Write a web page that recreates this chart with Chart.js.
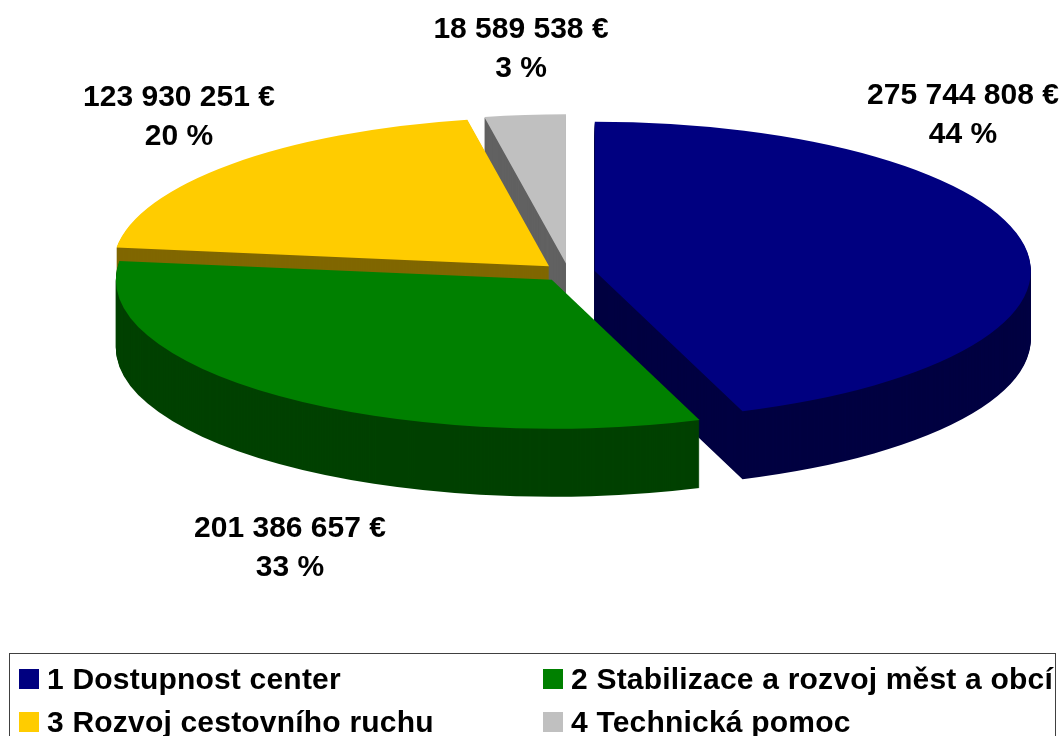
<!DOCTYPE html>
<html lang="cs">
<head>
<meta charset="utf-8">
<title>Prioritní osy</title>
<script src="https://cdn.jsdelivr.net/npm/chart.js@4/dist/chart.umd.min.js"></script>
<style>
    html, body { margin: 0; padding: 0; background: #fff; overflow: hidden; }
    #wrap { position: relative; width: 1061px; height: 736px; overflow: hidden;
            font: bold 30px "Liberation Sans", Arial, sans-serif; color: #000; }
    canvas { position: absolute; left: 0; top: 0; }
    .label { position: absolute; width: 300px; margin-left: -150px; text-align: center; line-height: 38.5px; white-space: nowrap; }
    #legend { position: absolute; left: 9px; top: 653px; width: 1047px; height: 100px; box-sizing: border-box;
              border: 1px solid #404040; }
    .item { position: absolute; white-space: nowrap; line-height: 38px; letter-spacing: 0.2px; }
    .item i { position: absolute; left: 0; top: 9px; width: 20px; height: 20px; }
    .item span { position: absolute; left: 28px; top: 0; }
</style>
</head>
<body>
<div id="wrap">
    <canvas id="pie" width="1061" height="736"></canvas>
    <div id="legend"></div>
</div>
<script>
// --- DATA ---
const categories = ['1 Dostupnost center', '2 Stabilizace a rozvoj měst a obcí', '3 Rozvoj cestovního ruchu', '4 Technická pomoc'];
const amounts = [275744808, 201386657, 123930251, 18589538];
const percents = [44, 33, 20, 3];
const topColors = ['#000080', '#008000', '#ffcc00', '#c0c0c0'];
const sideColors = ['#000040', '#004000', '#806600', '#606060'];

// --- LAYOUT ---
const TILT = 0.342;
const DEPTH = 68;
const RADIUS = 436;
const EXPLODE = 26.7;
// label centres, same order as categories
const labelX = [963, 290, 179, 521];
const labelY = [75, 508, 77, 9];
const legendX = [9, 533, 9, 533];
const legendY = [6, 6, 49, 49];
// front slices first, the walls are painted underneath what is already there
const wallOrder = [1, 0, 2, 3];

function formatAmount(value) {
    return String(value).replace(/\B(?=(\d{3})+$)/g, ' ') + ' €';
}

// move a slice out from the centre along its own middle angle
function explode(ctx, arc) {
    const mid = (arc.startAngle + arc.endAngle) / 2;
    ctx.translate(Math.cos(mid) * EXPLODE, Math.sin(mid) * EXPLODE);
}

const pie3d = {
    id: 'pie3d',
    beforeDatasetsDraw(chart) {
        const ctx = chart.ctx;
        const arcs = chart.getDatasetMeta(0).data;
        const cy = arcs[0].y;

        // squash the round pie into an ellipse
        ctx.save();
        ctx.translate(0, cy);
        ctx.scale(1, TILT);
        ctx.translate(0, -cy);

        arcs.forEach(arc => {
            ctx.save();
            explode(ctx, arc);
            arc.draw(ctx);
            ctx.restore();
        });

        // destination-over keeps the wall colour flat, no blending on top of itself
        ctx.globalCompositeOperation = 'destination-over';
        wallOrder.forEach(i => {
            const arc = arcs[i];
            const original = arc.options;
            arc.options = Object.create(original);
            arc.options.backgroundColor = sideColors[i];
            for (let d = 1; d <= DEPTH; d++) {
                ctx.save();
                ctx.translate(0, d / TILT);
                explode(ctx, arc);
                arc.draw(ctx);
                ctx.restore();
            }
            arc.options = original;
        });

        ctx.restore();
        return false;
    }
};

new Chart(document.getElementById('pie').getContext('2d'), {
    type: 'pie',
    plugins: [pie3d],
    data: {
        labels: categories,
        datasets: [{
            data: amounts,
            backgroundColor: topColors,
            borderWidth: 0,
            clip: false
        }]
    },
    options: {
        responsive: false,
        animation: false,
        radius: RADIUS,
        layout: { padding: { left: 76, bottom: 191 } },
        plugins: {
            legend: { display: false },
            tooltip: { enabled: false }
        }
    }
});

// data labels
const wrap = document.getElementById('wrap');
amounts.forEach((amount, i) => {
    const el = document.createElement('div');
    el.className = 'label';
    el.style.left = `${labelX[i]}px`;
    el.style.top = `${labelY[i]}px`;
    el.innerHTML = `${formatAmount(amount)}<br>${percents[i]} %`;
    wrap.appendChild(el);
});

// legend
const legend = document.getElementById('legend');
categories.forEach((name, i) => {
    const item = document.createElement('div');
    item.className = 'item';
    item.style.left = `${legendX[i]}px`;
    item.style.top = `${legendY[i]}px`;
    item.innerHTML = `<i style="background:${topColors[i]}"></i><span>${name}</span>`;
    legend.appendChild(item);
});
</script>
</body>
</html>
